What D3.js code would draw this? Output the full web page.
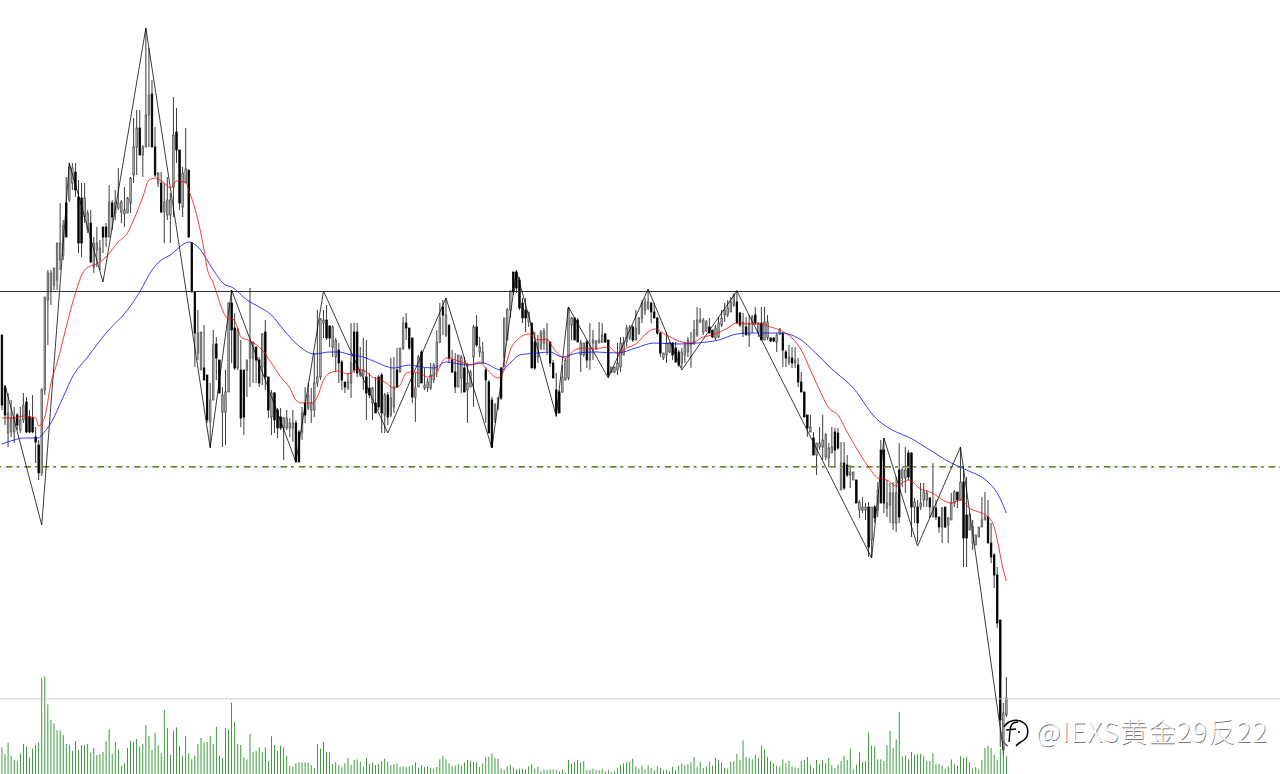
<!DOCTYPE html>
<html lang="en">

<head>
	<meta charset="UTF-8">
	<title>Gold H1</title>
	<script src="https://d3js.org/d3.v7.min.js"></script>
	<style>
		html, body {
			margin: 0;
			padding: 0;
			background: white;
		}

		svg {
			display: block;
		}
	</style>
</head>

<body>
	<div id="chart"></div>
	<script>
		/*-------------------------------------------------------*/
		/*------------- data ------------------------------------*/
		/*-------------------------------------------------------*/
		const highs = [
			665,615,607,600,593,587,593,607,603,590, 605,573,560,612,703,730,730,732,757,797,
			780,823,837,837,837,820,817,817,790,790, 763,773,760,773,777,815,800,810,832,800,
			813,803,823,882,890,890,855,972,952,920, 873,828,828,817,823,807,903,892,850,833,
			872,830,757,708,690,668,675,625,617,670, 663,640,613,630,697,710,687,672,660,630,
			640,712,658,653,643,667,680,623,610,608, 592,592,583,590,582,590,580,570,593,613,
			617,612,647,690,682,690,695,675,675,662, 657,640,618,627,677,677,677,653,662,660,
			627,613,623,625,627,607,608,642,643,652, 652,683,687,672,662,627,645,650,632,622,
			637,637,670,697,700,702,675,650,647,645, 645,643,637,630,675,685,663,658,633,620,
			603,597,603,633,682,692,710,728,730,723, 702,702,688,677,668,665,670,672,677,658,
			640,627,610,635,642,693,683,683,682,660, 657,660,677,670,660,678,677,667,660,633,
			633,657,663,663,675,675,675,690,683,700, 702,710,698,697,683,668,647,668,658,658,
			658,650,652,658,663,668,680,693,692,682, 680,682,670,675,683,690,697,700,703,707,
			710,688,687,683,685,685,693,678,693,693, 685,662,663,667,672,667,650,655,653,653,
			642,628,608,585,585,568,557,573,585,567, 557,573,572,572,558,558,545,535,528,520,
			500,503,497,498,493,495,518,560,562,520, 517,518,523,557,533,553,550,548,502,500,
			517,517,510,503,537,500,483,493,493,483, 507,510,508,553,530,523,487,480,465,473,
			503,508,500,477,447,433,380,297,323
		];
		const lows = [
			590,575,553,563,557,570,567,577,567,567, 567,537,520,524,605,655,695,710,710,730,
			740,763,798,810,803,747,743,777,767,737, 727,733,730,747,753,763,770,780,790,777,
			773,787,787,817,825,845,823,853,853,853, 823,813,787,757,780,757,783,837,790,783,
			817,762,708,633,640,630,620,577,553,600, 620,607,553,555,608,637,630,630,573,565,
			603,613,617,617,613,615,610,582,565,567, 562,570,540,570,563,558,538,538,560,577,
			590,577,583,613,620,662,660,653,643,628, 617,610,607,610,602,627,623,623,610,580,
			602,580,587,590,567,567,575,583,587,613, 628,650,660,650,597,578,613,617,610,608,
			610,617,623,657,665,663,637,627,607,613, 607,608,577,613,593,653,643,637,577,567,
			552,577,590,600,633,660,682,705,707,690, 677,668,673,632,630,637,650,650,645,633,
			622,583,587,607,620,620,660,660,658,628, 643,632,630,640,650,657,657,657,623,627,
			627,625,628,645,653,660,658,660,665,677, 685,690,677,682,665,643,640,637,647,640,
			637,633,632,637,643,632,655,663,677,665, 668,667,662,660,662,673,678,683,688,693,
			677,673,663,665,653,667,675,663,660,660, 660,658,658,648,665,633,633,635,632,632,
			613,608,583,563,568,545,525,550,540,540, 533,547,533,550,510,510,523,512,520,497,
			482,487,480,443,442,477,483,497,487,483, 477,470,468,477,513,507,520,463,477,458,
			490,493,493,482,483,480,467,457,472,457, 480,493,492,500,433,433,470,450,455,463,
			473,480,457,437,412,372,253,245,283
		];
		const opens = [
			665,613,567,568,568,585,570,580,598,583, 582,563,555,527,610,700,710,715,720,740,
			745,797,800,817,828,803,802,783,770,777, 733,750,740,773,773,763,797,787,792,788,
			786,787,797,825,853,872,845,853,885,906, 853,817,817,788,785,785,813,868,850,793,
			817,830,757,708,647,630,632,625,578,600, 656,640,588,588,608,697,672,632,630,630,
			630,642,642,653,640,633,668,623,583,607, 590,583,572,572,572,572,577,568,568,597,
			592,590,590,617,623,677,680,674,653,643, 650,638,618,612,617,668,668,625,625,623,
			612,597,597,623,625,585,605,585,593,630, 628,652,677,672,662,603,613,648,612,612,
			612,620,630,658,693,665,675,640,628,613, 622,632,610,613,643,673,648,637,630,618,
			600,580,592,632,643,660,690,728,728,720, 697,690,678,677,658,643,652,657,650,658,
			637,610,608,608,620,622,675,682,680,645, 645,658,640,657,652,657,658,666,660,628,
			628,630,633,645,658,662,673,660,667,682, 690,692,697,688,682,667,642,645,648,657,
			652,648,637,645,648,655,657,665,678,668, 669,673,670,662,663,675,685,685,688,695,
			698,687,667,673,665,677,685,668,677,660, 662,662,662,658,666,667,648,638,642,637,
			635,618,608,585,568,562,545,553,553,543, 542,547,568,567,510,537,535,525,520,520,
			490,490,490,493,460,493,490,550,550,492, 495,477,477,530,522,522,547,547,493,493,
			493,500,500,502,483,492,483,473,493,475, 480,497,508,500,518,485,470,457,455,463,
			473,480,483,457,445,425,380,250,285
		];
		const closes = [
			595,585,587,582,583,575,580,595,568,568, 568,558,527,610,703,727,727,732,757,757,
			774,763,833,832,810,757,757,802,787,738, 757,757,752,763,763,798,783,798,797,798,
			790,802,822,853,872,845,853,885,905,853, 825,827,788,798,800,800,865,850,797,827,
			831,763,708,667,667,668,620,580,600,655, 642,607,605,608,697,670,632,670,582,583,
			640,658,658,640,617,666,623,590,607,580, 572,572,582,582,577,577,538,538,587,585,
			605,597,617,623,681,680,662,662,673,660, 637,620,613,618,637,630,627,630,630,607,
			605,612,587,593,587,605,583,602,613,613, 652,677,672,652,603,612,643,617,615,618,
			625,635,658,682,685,685,642,628,613,645, 643,608,617,628,673,655,653,648,620,567,
			553,595,602,602,682,690,708,708,712,692, 682,682,688,632,632,657,668,669,660,637,
			622,587,587,623,640,692,682,660,658,657, 657,640,652,660,659,660,665,658,625,633,
			633,637,657,657,672,673,660,672,682,697, 698,698,688,682,667,647,647,657,657,645,
			638,635,648,655,660,657,670,680,680,680, 678,667,663,672,677,682,690,692,698,705,
			677,675,678,665,677,683,677,677,660,678, 678,659,659,665,671,650,642,643,637,640,
			618,608,583,572,573,545,557,557,560,565, 552,553,550,552,537,512,525,528,528,497,
			498,493,493,453,493,482,510,497,497,497, 507,507,507,483,530,530,523,493,498,477,
			497,508,507,493,493,483,473,492,473,482, 497,508,500,518,462,462,485,473,465,473,
			480,483,457,443,425,377,280,287,302
		];
		const volumes = [
			80,60,94,55,42,39,62,90,82,50, 76,87,94,287,292,209,162,152,131,131,
			117,90,87,69,99,72,87,87,90,64, 78,57,60,66,99,134,60,96,74,25,
			32,78,99,96,105,83,90,147,114,72, 124,87,62,192,138,57,129,140,83,55,
			114,62,44,55,90,108,94,96,114,90, 142,55,48,138,134,214,156,90,87,50,
			44,120,66,69,80,66,80,39,113,87, 69,85,80,55,24,21,32,35,35,35,
			35,27,18,90,76,96,66,64,30,35, 26,
			20,32,48,27,42,44,37,23,48,30, 35,27,30,39,46,37,27,30,32,21,
			23,21,23,27,35,19,27,21,23,19, 16,21,44,55,44,32,23,25,30,25,
			35,42,39,37,35,21,32,51,51,62, 48,46,16,12,23,28,20,14,16,16,
			14,23,30,16,21,8,14,12,14,14, 12,8,14,5,42,30,35,42,35,39,
			12,12,16,12,12,16,8,12,5,8, 16,27,32,35,37,46,23,16,25,14,
			27,18,12,23,18,12,12,8,21,12, 25,
			32,27,30,35,51,21,37,18,23,37, 25,48,42,35,18,16,37,39,60,42,
			101,51,48,44,57,48,85,74,51,39, 32,25,23,44,32,39,23,20,18,39,
			42,51,27,16,42,30,42,32,48,27, 18,27,39,54,42,76,14,28,64,36,
			39,124,85,83,44,44,39,87,129,78, 104,186,52,55,44,66,57,60,60,53,
			39,39,62,30,30,25,16,23,44,30, 25,53,48,51,35,16,21,14,42,78,
			85,78,57,42,76,66,53
		];

		// moving averages, read at the bars where the line bends
		const fastBars = [0,4,7,11,12,14,16,18,21,24,27,32,34,38,41,43,46,48,50,53,55,57,60,61,64,66,67,69,70,72,74,75,77,78,81,84,88,91,94,96,98,101,103,105,107,110,113,116,119,121,125,128,130,132,134,137,139,142,145,147,150,153,156,158,162,164,166,169,172,175,178,180,184,187,190,193,198,201,204,207,211,213,217,222,225,229,232,237,240,244,248,251,254,258,261,264,267,270,273,276,279,283,286,289,292,296,300,303,310,313,316,322,324,325,327,328];
		const fastVals = [582,582,584,582,574,583,617,637,673,707,730,738,743,758,767,780,803,820,822,817,812,819,818,810,780,750,732,717,708,690,681,682,672,663,659,653,637,623,612,600,597,597,603,620,627,629,626,631,628,623,618,612,615,627,628,626,623,628,642,641,638,635,638,632,622,630,650,662,666,660,661,652,642,650,652,651,653,647,652,656,668,671,665,658,657,663,665,672,677,676,676,673,670,662,650,630,610,592,585,568,552,533,522,520,514,520,511,508,497,500,492,483,473,460,430,419];
		const slowBars = [0,4,7,12,13,16,20,23,28,34,41,45,49,52,55,58,61,64,67,69,73,75,80,84,88,92,97,102,107,110,114,118,122,128,133,137,141,145,152,157,163,166,169,175,179,183,188,194,201,207,213,221,227,234,240,245,248,254,260,264,271,278,285,292,296,302,310,315,322,325,328];
		const slowVals = [556,560,562,562,565,577,603,623,643,667,690,708,730,740,745,753,758,753,740,730,715,713,700,693,685,670,654,646,648,648,645,643,638,632,635,633,632,638,635,637,630,637,645,647,648,643,647,648,647,652,657,656,657,660,666,667,667,667,662,652,631,612,583,568,563,552,537,530,518,507,487];

		// zigzag turning points
		const zigzagBars = [1,13,22,33,47,68,75,96,105,126,145,160,168,181,185,198,211,222,240,284,288,299,313,327];
		const zigzagVals = [615,475,837,718,972,552,710,538,709,567,702,552,729,584,693,622,711,630,709,442,562,454,553,250];

		const resistance = 709;
		const support = 533;
		const volumeLevel = 227;
		const watermark = "@IEXS黄金29反22";

		/*-------------------------------------------------------*/
		/*----------------------- scales ------------------------*/
		/*-------------------------------------------------------*/
		const width = 1280;
		const height = 774;

		const x = d3.scaleLinear().domain([0, 328]).range([1.94, 1006.4]);
		const y = d3.scaleLinear().domain([1000, 226]).range([0, height]);
		const yVol = d3.scaleLinear().domain([0, 312]).range([height, 670]);

		// one MT4 pixel after the screenshot was scaled down
		const thin = 0.77;

		const svg = d3.select("#chart").append("svg")
			.attr("width", width)
			.attr("height", height);

		// the reference is a scaled jpeg, so its candles are a bit soft
		svg.append("filter")
			.attr("id", "soft")
			.append("feGaussianBlur")
			.attr("stdDeviation", .3);

		/*-------------------------------------------------------*/
		/*----------------------- candles -----------------------*/
		/*-------------------------------------------------------*/
		const candles = svg.append("g")
			.attr("filter", "url(#soft)")
			.selectAll("g")
			.data(highs.map((h, i) => i))
			.enter()
			.append("g");

		candles.append("line")
			.attr("x1", i => x(i))
			.attr("x2", i => x(i))
			.attr("y1", i => y(highs[i]))
			.attr("y2", i => y(lows[i]))
			.attr("stroke", "black")
			.attr("stroke-width", thin);

		candles.append("rect")
			.attr("x", i => x(i) - thin)
			.attr("width", thin * 2)
			.attr("y", i => y(Math.max(opens[i], closes[i])))
			.attr("height", i => Math.abs(y(opens[i]) - y(closes[i])))
			.attr("fill", i => closes[i] > opens[i] ? "#b4b4b4" : "black")
			.attr("stroke", i => closes[i] > opens[i] ? "#555" : "black")
			.attr("stroke-width", thin);

		/*-------------------------------------------------------*/
		/*----------------------- volumes -----------------------*/
		/*-------------------------------------------------------*/
		svg.append("g").selectAll("rect")
			.data(volumes)
			.enter()
			.append("rect")
			.attr("x", (d, i) => x(i) - thin / 2)
			.attr("width", thin)
			.attr("y", d => yVol(d))
			.attr("height", d => yVol(0) - yVol(d))
			.attr("fill", "#008000");

		/*-------------------------------------------------------*/
		/*---------------- levels, MAs and zigzag ---------------*/
		/*-------------------------------------------------------*/
		svg.append("line")
			.attr("x1", 0).attr("x2", width)
			.attr("y1", y(resistance) + .5).attr("y2", y(resistance) + .5)
			.attr("stroke", "#333");

		svg.append("line")
			.attr("x1", 0).attr("x2", width)
			.attr("y1", yVol(volumeLevel) + .5).attr("y2", yVol(volumeLevel) + .5)
			.attr("stroke", "#ccc");

		// the dash-dot level shows a green and an orange row of pixels
		[["#2f9a3c", .5], ["#e8925a", 1.5]].forEach(([color, shift]) => {
			svg.append("line")
				.attr("x1", 0).attr("x2", width)
				.attr("y1", y(support) - 1 + shift).attr("y2", y(support) - 1 + shift)
				.attr("stroke", color)
				.attr("stroke-dasharray", "6.6,4,2.8,4.9")
				.attr("stroke-dashoffset", -6);
		});

		const line = d3.line()
			.x(d => x(d[0]))
			.y(d => y(d[1]));

		svg.append("path")
			.attr("d", line(zigzagBars.map((b, i) => [b, zigzagVals[i]])))
			.attr("fill", "none")
			.attr("stroke", "black")
			.attr("stroke-width", thin);

		svg.append("path")
			.attr("d", line.curve(d3.curveMonotoneX)(slowBars.map((b, i) => [b, slowVals[i]])))
			.attr("fill", "none")
			.attr("stroke", "blue")
			.attr("stroke-width", thin);

		svg.append("path")
			.attr("d", line.curve(d3.curveMonotoneX)(fastBars.map((b, i) => [b, fastVals[i]])))
			.attr("fill", "none")
			.attr("stroke", "red")
			.attr("stroke-width", thin);

		/*-------------------------------------------------------*/
		/*---------------------- watermark ----------------------*/
		/*-------------------------------------------------------*/
		const mark = svg.append("g").attr("transform", "translate(1015,733)");

		mark.append("path")
			.attr("d", "M-11,-6 C-7,-13 3,-15 9,-10 C14,-6 14,3 9,7 C6,9 3,10 1,13")
			.attr("fill", "none")
			.attr("stroke", "black")
			.attr("stroke-width", 1.5);

		mark.append("path")
			.attr("d", "M-13,-1 C-14,5 -12,11 -7,13")
			.attr("fill", "none")
			.attr("stroke", "#555")
			.attr("stroke-width", 1.2);

		mark.append("path")
			.attr("d", "M3,-11 C-3,-11 -5,-7 -5,-2 L-6,9 M-9,-3 L1,-4")
			.attr("fill", "none")
			.attr("stroke", "black")
			.attr("stroke-width", 1.4);

		mark.append("circle")
			.attr("cx", 4)
			.attr("cy", -1)
			.attr("r", 1)
			.attr("fill", "black");

		// embossed look: a dark copy below a light one
		[["#777", .7], ["white", 0]].forEach(([color, shift]) => {
			svg.append("text")
				.attr("x", 1036 + shift)
				.attr("y", 742 + shift)
				.attr("textLength", 231)
				.attr("font-family", "'Noto Sans CJK SC', sans-serif")
				.attr("font-size", 27)
				.attr("font-weight", 300)
				.attr("fill", color)
				.text(watermark);
		});
	</script>
</body>

</html>
